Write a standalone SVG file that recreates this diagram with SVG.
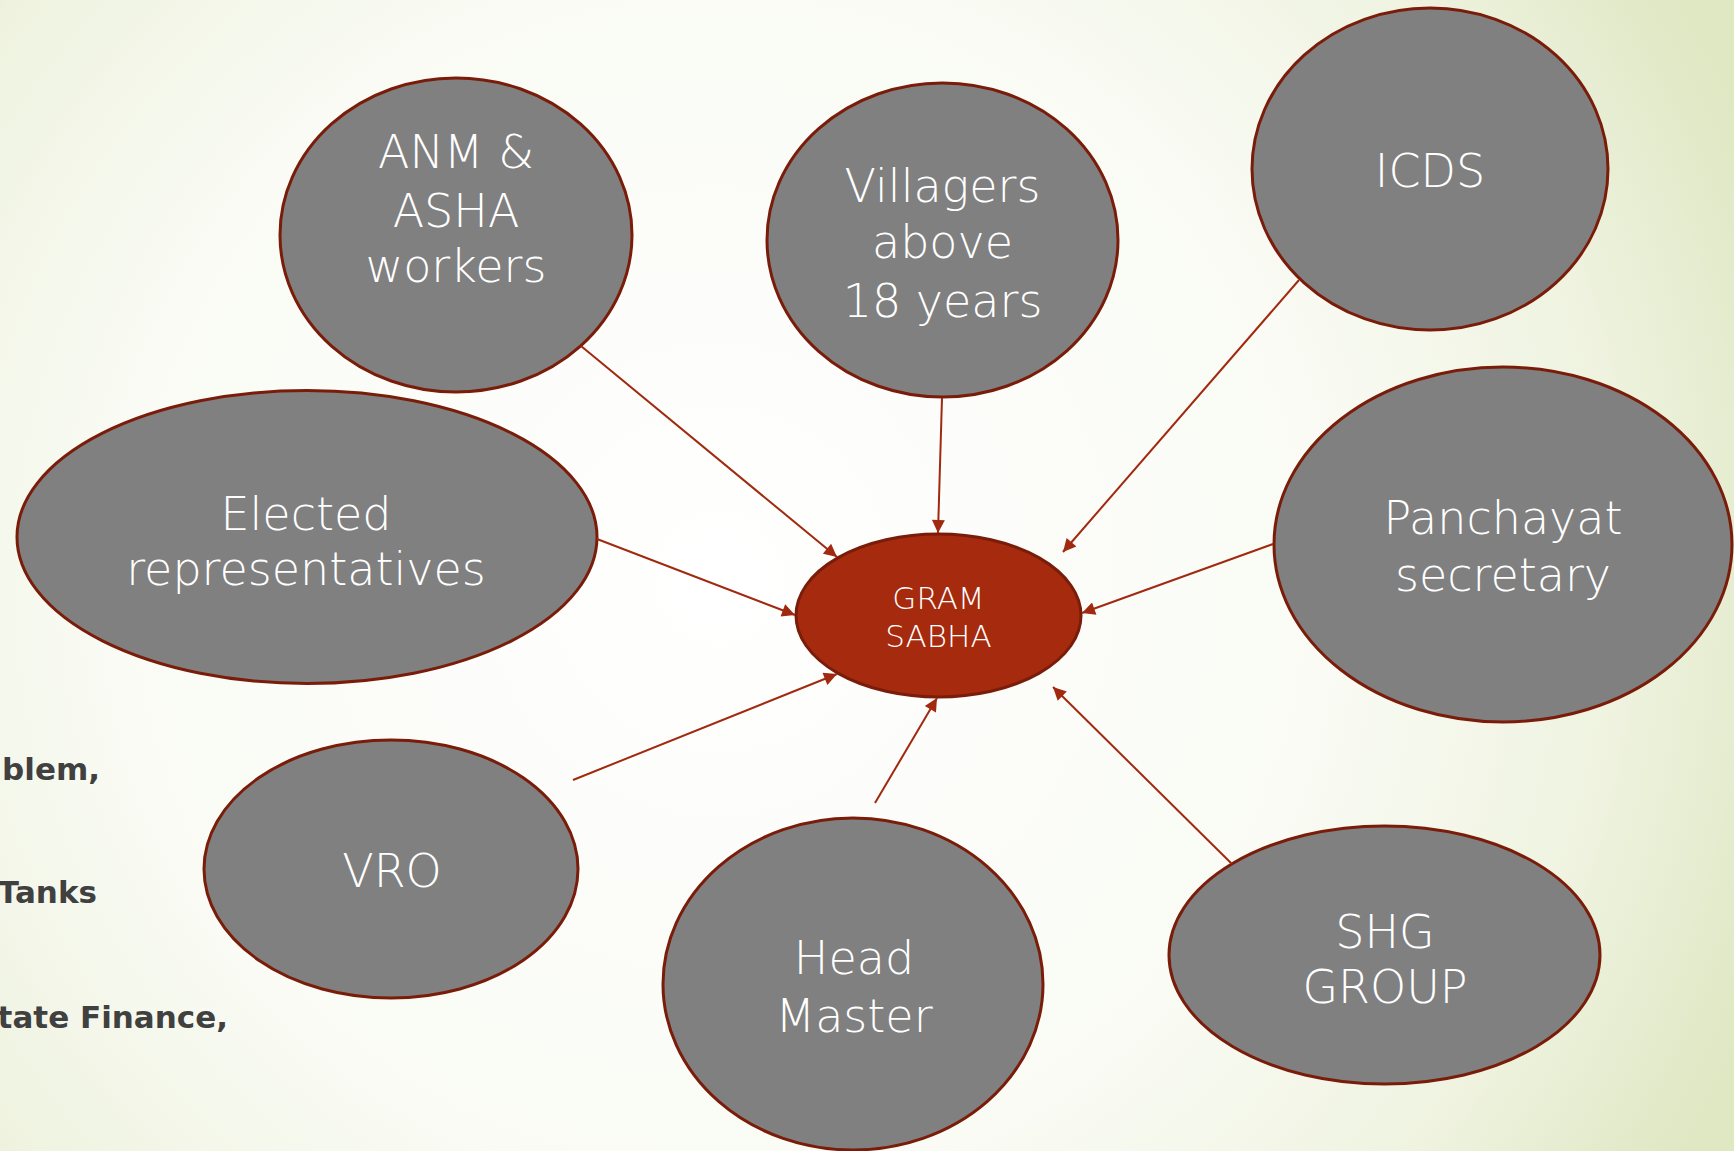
<svg xmlns="http://www.w3.org/2000/svg" width="1734" height="1151" viewBox="0 0 1734 1151">
<defs>
<radialGradient id="bg" gradientUnits="userSpaceOnUse" cx="720" cy="580" r="1120">
<stop offset="0" stop-color="#ffffff"/>
<stop offset="0.55" stop-color="#f9fbf4"/>
<stop offset="0.8" stop-color="#eff3e0"/>
<stop offset="1" stop-color="#dfe7c3"/>
</radialGradient>
<marker id="ah" viewBox="0 0 10 10" refX="10" refY="5" markerWidth="15" markerHeight="13" markerUnits="userSpaceOnUse" orient="auto">
<path d="M0,0 L10,5 L0,10 z" fill="#a0290f"/>
</marker>
<style>
.n{fill:#808080;stroke:#7a1c0a;stroke-width:3}
.t{fill:#ffffff;font-family:"DejaVu Sans","Liberation Sans",sans-serif;font-weight:300;font-size:46px;text-anchor:middle}
.c{stroke:#a0290f;stroke-width:2;fill:none;marker-end:url(#ah)}
.side{fill:#404040;font-family:"DejaVu Sans","Liberation Sans",sans-serif;font-weight:bold;font-size:31px;text-anchor:end}
</style>
</defs>
<rect x="0" y="0" width="1734" height="1151" fill="url(#bg)"/>
<g id="side-text">
<text class="side" x="100" y="780">blem,</text>
<text class="side" x="97" y="903">Tanks</text>
<text class="side" x="228" y="1028">tate Finance,</text>
</g>
<g id="node-anm">
<ellipse class="n" cx="456" cy="235" rx="176" ry="157"/>
<text class="t" x="456" y="168">ANM &amp;</text>
<text class="t" x="456" y="227">ASHA</text>
<text class="t" x="456" y="282">workers</text>
</g>
<g id="node-villagers">
<ellipse class="n" cx="942.5" cy="240" rx="175.5" ry="157"/>
<text class="t" x="942.5" y="202">Villagers</text>
<text class="t" x="942.5" y="258">above</text>
<text class="t" x="942.5" y="317">18 years</text>
</g>
<g id="node-icds">
<ellipse class="n" cx="1430" cy="169" rx="178" ry="161"/>
<text class="t" x="1430" y="187">ICDS</text>
</g>
<g id="node-elected">
<ellipse class="n" cx="307" cy="537" rx="290" ry="146.5"/>
<text class="t" x="306" y="530">Elected</text>
<text class="t" x="306" y="585">representatives</text>
</g>
<g id="node-panchayat">
<ellipse class="n" cx="1503" cy="544.5" rx="229" ry="177.5"/>
<text class="t" x="1503" y="534">Panchayat</text>
<text class="t" x="1503" y="591">secretary</text>
</g>
<g id="node-vro">
<ellipse class="n" cx="391" cy="869" rx="187" ry="129"/>
<text class="t" x="392" y="887">VRO</text>
</g>
<g id="node-head">
<ellipse class="n" cx="853" cy="984" rx="190" ry="166"/>
<text class="t" x="854" y="974">Head</text>
<text class="t" x="854" y="1032">Master</text>
</g>
<g id="node-shg">
<ellipse class="n" cx="1384.5" cy="955" rx="215.5" ry="129"/>
<text class="t" x="1385" y="948">SHG</text>
<text class="t" x="1385" y="1003">GROUP</text>
</g>
<g id="node-gram">
<ellipse cx="938.5" cy="615.5" rx="142.5" ry="81.5" fill="#a52a0e" stroke="#7a1c0a" stroke-width="3"/>
<text class="t" x="938.5" y="609" style="font-size:31px">GRAM</text>
<text class="t" x="938.5" y="647" style="font-size:31px">SABHA</text>
</g>
<g id="connectors">
<line class="c" x1="581" y1="346" x2="837" y2="557"/>
<line class="c" x1="942" y1="398" x2="938" y2="533"/>
<line class="c" x1="1299" y1="280" x2="1063" y2="552"/>
<line class="c" x1="597" y1="539" x2="795" y2="615"/>
<line class="c" x1="1273" y1="544" x2="1082" y2="613"/>
<line class="c" x1="573" y1="780" x2="837" y2="674"/>
<line class="c" x1="875" y1="803" x2="937" y2="698"/>
<line class="c" x1="1232" y1="864" x2="1053" y2="687"/>
</g>
</svg>
